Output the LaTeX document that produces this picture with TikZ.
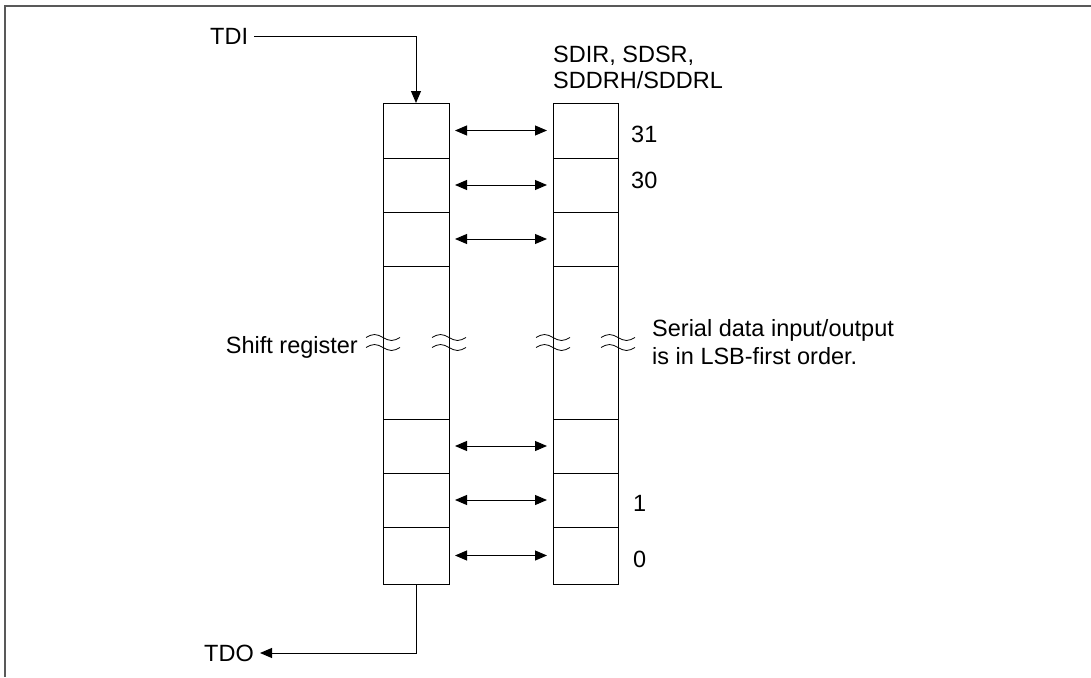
\documentclass[tikz,border=0pt]{standalone}
\usepackage{fontspec}
\setmainfont{Liberation Sans}
\usetikzlibrary{arrows.meta,calc}
\newcommand\wavemark[1]{\draw[wave] ($(#1)+(-17,0)$) sin ++(8.5,-3) cos ++(8.5,3) sin ++(8.5,3) cos ++(8.5,-3);}
\begin{document}
\begin{tikzpicture}[x=1pt,y=-1pt,
  cell/.style={draw, line width=1pt, minimum width=66pt, inner sep=0pt, outer sep=0pt},
  rcell/.style={cell, minimum width=65pt},
  lbl/.style={inner sep=0pt, font=\fontsize{23.5}{27}\selectfont},
  arr/.style={line width=1pt, -{Triangle[length=12pt,width=10pt]}},
  darr/.style={line width=1pt, {Triangle[length=12pt,width=10pt]}-{Triangle[length=12pt,width=10pt]}, shorten <=6pt, shorten >=6pt},
  wave/.style={line width=0.8pt},
  frame/.style={line width=1.5pt, black!65}]
\useasboundingbox (0,0) rectangle (1091,677);
\draw[frame] (1091,6) -- (5,6) -- (5,677);
% shift register cells
\node[cell, minimum height=55pt] (L1) at (416,130.5) {};
\node[cell, minimum height=54pt] (L2) at (416,185) {};
\node[cell, minimum height=54pt] (L3) at (416,239) {};
\node[cell, minimum height=153pt] (LM) at (416,342.5) {};
\node[cell, minimum height=54pt] (L4) at (416,446) {};
\node[cell, minimum height=54pt] (L5) at (416,500) {};
\node[cell, minimum height=57pt] (L6) at (416,555.5) {};
% data register cells
\node[rcell, minimum height=55pt] (R1) at (585.5,130.5) {};
\node[rcell, minimum height=54pt] (R2) at (585.5,185) {};
\node[rcell, minimum height=54pt] (R3) at (585.5,239) {};
\node[rcell, minimum height=153pt] (RM) at (585.5,342.5) {};
\node[rcell, minimum height=54pt] (R4) at (585.5,446) {};
\node[rcell, minimum height=54pt] (R5) at (585.5,500) {};
\node[rcell, minimum height=57pt] (R6) at (585.5,555.5) {};
% transfer arrows
\draw[darr] (L1) -- (R1);
\draw[darr] (L2) -- (R2);
\draw[darr] (L3) -- (R3);
\draw[darr] (L4) -- (R4);
\draw[darr] (L5) -- (R5);
\draw[darr] (L6) -- (R6);
% break marks
\foreach \n in {LM,RM}{
  \foreach \s in {west,east}{
    \wavemark{$(\n.\s)+(0,-5)$}
    \wavemark{$(\n.\s)+(0,5)$}
  }
}
% labels
\node[lbl, anchor=west] (tdi) at (210,36.5) {TDI};
\node[lbl, anchor=east] (tdo) at (254,653) {TDO};
\draw[arr] ([xshift=6pt]tdi.east) -| (L1.north);
\draw[arr] (L6.south) |- ([xshift=6pt]tdo.east);
\node[lbl, anchor=north west, align=left, font=\fontsize{23.5}{26}\selectfont] (regs) at (553,46) {SDIR, SDSR,\\SDDRH/SDDRL};
\node[lbl, anchor=base west] (b31) at (631,142) {31};
\node[lbl, anchor=base west] (b30) at (631,188) {30};
\node[lbl, anchor=base west] (b1) at (633,511) {1};
\node[lbl, anchor=base west] (b0) at (633,567) {0};
\node[lbl, anchor=base east] (shift) at (358,353) {Shift register};
\node[lbl, anchor=north west, align=left, font=\fontsize{23.5}{28}\selectfont] (serial) at (652,319) {Serial data input/output\\is in LSB-first order.};
\end{tikzpicture}
\end{document}
